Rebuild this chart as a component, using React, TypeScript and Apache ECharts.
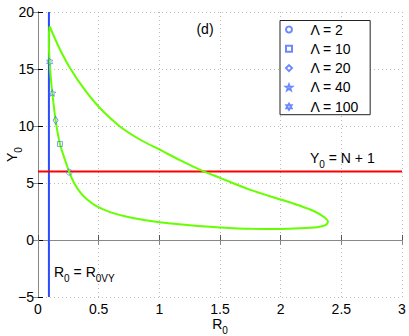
import React, { useEffect, useRef } from 'react';
import * as echarts from 'echarts';

const xTicks = [0, 0.5, 1, 1.5, 2, 2.5, 3];
const yTicks = [-5, 0, 5, 10, 15, 20];

const r0vy = 0.09;
const yThreshold = 6; // Y0 = N + 1

// closed loop: from the peak along the upper branch to the tip, then back along the lower branch
const loopR0 = [
  0.096, 0.13, 0.184, 0.266, 0.38, 0.5, 0.678, 0.85, 1.007, 1.17, 1.337, 1.5, 1.75, 2.0, 2.16, 2.28, 2.36, 2.39,
  2.37, 2.3, 2.16, 2.0, 1.75, 1.5, 1.25, 1.0, 0.76, 0.6, 0.486, 0.4, 0.35, 0.3, 0.258, 0.22, 0.181, 0.145, 0.118,
  0.105, 0.096, 0.09, 0.09, 0.096,
];
const loopY0 = [
  18.75, 17.9, 16.65, 15.05, 13.25, 11.69, 9.94, 8.75, 7.9, 7.0, 6.15, 5.45, 4.4, 3.55, 3.0, 2.5, 2.0, 1.6,
  1.3, 1.12, 1.02, 0.97, 0.98, 1.1, 1.3, 1.56, 1.98, 2.42, 2.94, 3.6, 4.15, 4.95, 5.95, 7.1, 8.42, 10.5, 12.9,
  14.3, 15.63, 17.0, 18.0, 18.75,
];

const lambdaLabels = ['Λ = 2', 'Λ = 10', 'Λ = 20', 'Λ = 40', 'Λ = 100'];
const markerR0 = [0.258, 0.181, 0.145, 0.118, 0.096];
const markerY0 = [5.95, 8.42, 10.5, 12.9, 15.63];

function starPath(n: number, innerRatio: number): string {
  const pts: string[] = [];
  for (let i = 0; i < 2 * n; i++) {
    const r = i % 2 === 0 ? 10 : 10 * innerRatio;
    const a = -Math.PI / 2 + (i * Math.PI) / n;
    pts.push((i === 0 ? 'M' : 'L') + (r * Math.cos(a)).toFixed(3) + ' ' + (r * Math.sin(a)).toFixed(3));
  }
  return 'path://' + pts.join(' ') + ' Z';
}

const markerSymbols = ['circle', 'rect', 'diamond', starPath(5, 0.42), starPath(6, 0.577)];
const markerSizes: any[] = [6, 5, [5, 8], 7, 7];

const FONT = '"Liberation Sans", Arial, Helvetica, sans-serif';
const BLUE = '#2a4bff';

export default function App() {
  const ref = useRef<HTMLDivElement>(null);
  useEffect(() => {
    if (!ref.current) return;
    const chart = echarts.init(ref.current, undefined, { renderer: 'svg' });
    const loop = loopR0.map((x, i) => [x, loopY0[i]]);
    const subRich = {
      a: { fontSize: 14, fontFamily: FONT, color: '#000' },
      s: { fontSize: 10, fontFamily: FONT, color: '#000', padding: [13, 0, 0, 0] },
    };
    const markerSeries = lambdaLabels.map((name, i) => ({
      name,
      type: 'scatter',
      data: [[markerR0[i], markerY0[i]]],
      symbol: markerSymbols[i],
      symbolSize: markerSizes[i],
      symbolKeepAspect: true,
      itemStyle: { color: 'rgba(0,0,0,0)', borderColor: '#4a6bff', borderWidth: 0.8 },
      z: 5,
    }));
    chart.setOption({
      animation: false,
      backgroundColor: '#fff',
      grid: { left: 38, right: 7, top: 12, bottom: 39, containLabel: false, outerBoundsMode: 'none' },
      xAxis: [
        {
          type: 'value',
          min: xTicks[0],
          max: xTicks[xTicks.length - 1],
          interval: 0.5,
          name: '{a|R}{s|0}',
          nameLocation: 'middle',
          nameGap: 15,
          nameMoveOverlap: false,
          nameTextStyle: { rich: subRich },
          axisLine: { lineStyle: { color: '#777', width: 1 } },
          axisTick: { inside: true, length: 5, lineStyle: { color: '#555' } },
          axisLabel: { fontSize: 14, fontFamily: FONT, color: '#000', margin: 5, formatter: (v: number) => String(v) },
          splitLine: { show: true, lineStyle: { color: '#bbb', type: [1, 3], width: 1 } },
        },
        {
          type: 'value',
          position: 'top',
          min: xTicks[0],
          max: xTicks[xTicks.length - 1],
          interval: 0.5,
          axisLine: { lineStyle: { color: '#888', width: 1 } },
          axisTick: { inside: true, length: 5, lineStyle: { color: '#888' } },
          axisLabel: { show: false },
          splitLine: { show: false },
        },
      ],
      yAxis: [
        {
          type: 'value',
          min: yTicks[0],
          max: yTicks[yTicks.length - 1],
          interval: 5,
          name: '{a|Y}{s|0}',
          nameLocation: 'middle',
          nameGap: 15,
          nameMoveOverlap: false,
          nameTextStyle: { rich: subRich },
          axisLine: { lineStyle: { color: '#000', width: 1 } },
          axisTick: { inside: true, length: 5, lineStyle: { color: '#000' } },
          axisLabel: {
            fontSize: 14,
            fontFamily: FONT,
            color: '#000',
            margin: 4,
            formatter: (v: number) => (v < 0 ? '\u2212' + String(-v) : String(v)),
          },
          splitLine: { show: true, lineStyle: { color: '#bbb', type: [1, 3], width: 1 } },
        },
        {
          type: 'value',
          position: 'right',
          min: yTicks[0],
          max: yTicks[yTicks.length - 1],
          interval: 5,
          axisLine: { lineStyle: { color: '#888', width: 1 } },
          axisTick: { inside: true, length: 5, lineStyle: { color: '#888' } },
          axisLabel: { show: false },
          splitLine: { show: false },
        },
      ],
      legend: {
        data: lambdaLabels,
        orient: 'vertical',
        left: 280,
        top: 20.5,
        padding: [2, 11, 1, 5],
        itemGap: 5.3,
        itemWidth: 6,
        itemHeight: 6,
        backgroundColor: '#fff',
        borderColor: '#222',
        borderWidth: 1,
        borderRadius: 0,
        textStyle: { fontSize: 14, fontFamily: FONT, color: '#000', lineHeight: 14, padding: [0, 0, 0, 13.5] },
      },
      series: [
        {
          name: 'loop',
          type: 'line',
          data: loop,
          showSymbol: false,
          smooth: 0.25,
          lineStyle: { color: '#66ff00', width: 2 },
          z: 3,
        },
        {
          name: 'R0VY',
          type: 'line',
          data: [[r0vy, yTicks[0]], [r0vy, yTicks[yTicks.length - 1]]],
          showSymbol: false,
          lineStyle: { color: BLUE, width: 2 },
          z: 2,
        },
        {
          name: 'threshold',
          type: 'line',
          data: [[xTicks[0], yThreshold], [xTicks[xTicks.length - 1], yThreshold]],
          showSymbol: false,
          lineStyle: { color: '#ff0000', width: 2 },
          z: 2,
        },
        ...markerSeries,
      ],
      graphic: [
        {
          type: 'text',
          x: 205,
          y: 29,
          style: { text: '(d)', font: '14px ' + FONT, fill: '#000', align: 'center', verticalAlign: 'middle' },
        },
        {
          type: 'text',
          x: 310,
          y: 146,
          style: { text: '{a|Y}{s|0}{a| = N + 1}', rich: subRich, fill: '#000' },
        },
        {
          type: 'text',
          x: 54,
          y: 260,
          style: { text: '{a|R}{s|0}{a| = R}{s|0VY}', rich: subRich, fill: '#000' },
        },
      ],
    });
    return () => chart.dispose();
  }, []);
  return <div ref={ref} style={{ position: 'absolute', left: 0, top: 0, width: 409, height: 336 }} />;
}
